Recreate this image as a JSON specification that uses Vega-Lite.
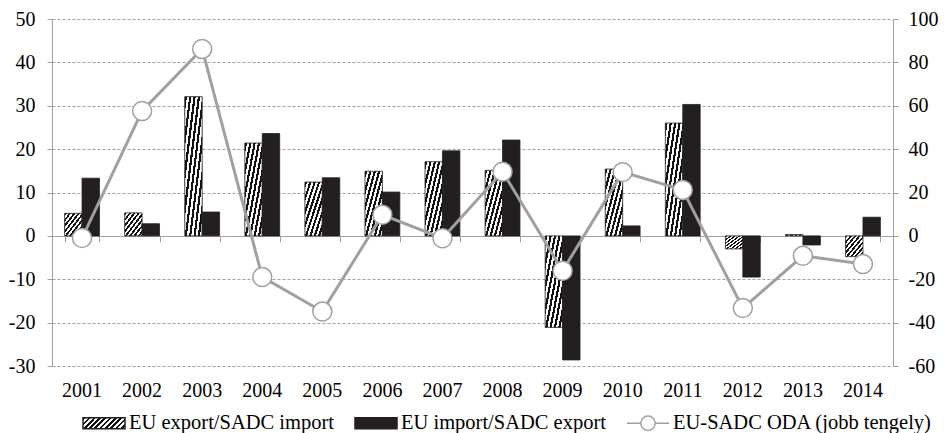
{
  "$schema": "https://vega.github.io/schema/vega-lite/v6.json",
  "width": 841,
  "height": 347,
  "autosize": "none",
  "padding": {"left": 52, "top": 19, "right": 51, "bottom": 67},
  "config": {
    "font": "Liberation Serif",
    "view": {"stroke": null},
    "axis": {
      "labelFont": "Liberation Serif",
      "labelFontSize": 20,
      "labelColor": "#000000",
      "domainColor": "#a0a0a0",
      "tickColor": "#a0a0a0",
      "gridColor": "#a0a0a0",
      "title": null
    },
    "legend": {
      "labelFont": "Liberation Serif",
      "labelFontSize": 20.5,
      "labelColor": "#000000",
      "labelLimit": 500
    }
  },
  "datasets": {
    "bars": [
      {"year": "2001", "series": "EU export/SADC import", "value": 5.2},
      {"year": "2001", "series": "EU import/SADC export", "value": 13.3},
      {"year": "2002", "series": "EU export/SADC import", "value": 5.3},
      {"year": "2002", "series": "EU import/SADC export", "value": 2.8},
      {"year": "2003", "series": "EU export/SADC import", "value": 32.1},
      {"year": "2003", "series": "EU import/SADC export", "value": 5.5},
      {"year": "2004", "series": "EU export/SADC import", "value": 21.4},
      {"year": "2004", "series": "EU import/SADC export", "value": 23.6},
      {"year": "2005", "series": "EU export/SADC import", "value": 12.4},
      {"year": "2005", "series": "EU import/SADC export", "value": 13.4},
      {"year": "2006", "series": "EU export/SADC import", "value": 14.9},
      {"year": "2006", "series": "EU import/SADC export", "value": 10.1},
      {"year": "2007", "series": "EU export/SADC import", "value": 17.1},
      {"year": "2007", "series": "EU import/SADC export", "value": 19.6},
      {"year": "2008", "series": "EU export/SADC import", "value": 15.1},
      {"year": "2008", "series": "EU import/SADC export", "value": 22.1},
      {"year": "2009", "series": "EU export/SADC import", "value": -21.1},
      {"year": "2009", "series": "EU import/SADC export", "value": -28.6},
      {"year": "2010", "series": "EU export/SADC import", "value": 15.4},
      {"year": "2010", "series": "EU import/SADC export", "value": 2.3},
      {"year": "2011", "series": "EU export/SADC import", "value": 26.0},
      {"year": "2011", "series": "EU import/SADC export", "value": 30.3},
      {"year": "2012", "series": "EU export/SADC import", "value": -3.0},
      {"year": "2012", "series": "EU import/SADC export", "value": -9.5},
      {"year": "2013", "series": "EU export/SADC import", "value": 0.3},
      {"year": "2013", "series": "EU import/SADC export", "value": -2.1},
      {"year": "2014", "series": "EU export/SADC import", "value": -4.8},
      {"year": "2014", "series": "EU import/SADC export", "value": 4.3}
    ],
    "oda": [
      {"year": "2001", "oda": -1.0},
      {"year": "2002", "oda": 57.6},
      {"year": "2003", "oda": 86.2},
      {"year": "2004", "oda": -19.0},
      {"year": "2005", "oda": -34.9},
      {"year": "2006", "oda": 9.7},
      {"year": "2007", "oda": -1.1},
      {"year": "2008", "oda": 29.6},
      {"year": "2009", "oda": -16.1},
      {"year": "2010", "oda": 29.4},
      {"year": "2011", "oda": 21.2},
      {"year": "2012", "oda": -33.3},
      {"year": "2013", "oda": -9.2},
      {"year": "2014", "oda": -13.0}
    ]
  },
  "layer": [
    {
      "data": {"name": "bars"},
      "mark": {"type": "bar", "stroke": "#231f20", "strokeWidth": 0.8},
      "encoding": {
        "x": {
          "field": "year", "type": "ordinal",
          "scale": {"paddingInner": 0.42, "paddingOuter": 0.21},
          "axis": {"orient": "bottom", "domain": false, "ticks": false, "labelPadding": 14, "labelAngle": 0, "grid": false}
        },
        "xOffset": {
          "field": "series", "type": "nominal",
          "sort": ["EU export/SADC import", "EU import/SADC export"],
          "scale": {"paddingInner": 0, "paddingOuter": 0}
        },
        "y": {
          "field": "value", "type": "quantitative",
          "scale": {"domain": [-30, 50], "nice": false, "zero": false},
          "axis": {
            "orient": "left", "values": [-30, -20, -10, 0, 10, 20, 30, 40, 50],
            "labelExpr": "replace(datum.label, '\u2212', '-')",
            "grid": true, "gridDash": [3, 2], "gridWidth": 1,
            "domain": true, "ticks": true, "tickSize": 5, "labelPadding": 12
          }
        },
        "fill": {
          "condition": {
            "test": "datum.series === 'EU export/SADC import'",
            "value": {"gradient": "linear", "x1": 0, "y1": 0, "x2": 1, "y2": 1, "stops": [
                {"offset": 0, "color": "#111111"}, {"offset": 0.0625, "color": "#111111"},
                {"offset": 0.0625, "color": "#ffffff"}, {"offset": 0.125, "color": "#ffffff"},
                {"offset": 0.125, "color": "#111111"}, {"offset": 0.1875, "color": "#111111"},
                {"offset": 0.1875, "color": "#ffffff"}, {"offset": 0.25, "color": "#ffffff"},
                {"offset": 0.25, "color": "#111111"}, {"offset": 0.3125, "color": "#111111"},
                {"offset": 0.3125, "color": "#ffffff"}, {"offset": 0.375, "color": "#ffffff"},
                {"offset": 0.375, "color": "#111111"}, {"offset": 0.4375, "color": "#111111"},
                {"offset": 0.4375, "color": "#ffffff"}, {"offset": 0.5, "color": "#ffffff"},
                {"offset": 0.5, "color": "#111111"}, {"offset": 0.5625, "color": "#111111"},
                {"offset": 0.5625, "color": "#ffffff"}, {"offset": 0.625, "color": "#ffffff"},
                {"offset": 0.625, "color": "#111111"}, {"offset": 0.6875, "color": "#111111"},
                {"offset": 0.6875, "color": "#ffffff"}, {"offset": 0.75, "color": "#ffffff"},
                {"offset": 0.75, "color": "#111111"}, {"offset": 0.8125, "color": "#111111"},
                {"offset": 0.8125, "color": "#ffffff"}, {"offset": 0.875, "color": "#ffffff"},
                {"offset": 0.875, "color": "#111111"}, {"offset": 0.9375, "color": "#111111"},
                {"offset": 0.9375, "color": "#ffffff"}, {"offset": 1, "color": "#ffffff"}
            ]}
          },
          "value": "#231f20"
        },
        "opacity": {
          "field": "series", "type": "ordinal",
          "scale": {
            "domain": ["EU export/SADC import", "EU import/SADC export", "EU-SADC ODA (jobb tengely)"],
            "range": [1, 1, 1]
          },
          "legend": {
            "orient": "none",
            "legendX": 30,
            "legendY": 382,
            "direction": "horizontal",
            "title": null,
            "symbolSize": 1764,
            "symbolStrokeWidth": 1.5,
            "labelOffset": 3,
            "columnPadding": 18,
            "labelLimit": 500,
            "labelFontSize": 20.5,
            "labelColor": "#000000",
            "encoding": {
              "symbols": {
                "shape": {"value": {"expr": "datum.value === 'EU-SADC ODA (jobb tengely)' ? 'M-1,0H-0.34M0.34,0H1M-0.34,0A0.34,0.34,0,1,1,0.34,0A0.34,0.34,0,1,1,-0.34,0' : 'M-1,-0.262H1V0.262H-1Z'"}},
                "fill": {"value": {"expr": "datum.value === 'EU export/SADC import' ? {gradient: 'linear', x1: 0, y1: 0, x2: 1.181, y2: 0.309, stops: [{offset: 0, color: '#111111'}, {offset: 0.05, color: '#111111'}, {offset: 0.05, color: '#ffffff'}, {offset: 0.1, color: '#ffffff'}, {offset: 0.1, color: '#111111'}, {offset: 0.15, color: '#111111'}, {offset: 0.15, color: '#ffffff'}, {offset: 0.2, color: '#ffffff'}, {offset: 0.2, color: '#111111'}, {offset: 0.25, color: '#111111'}, {offset: 0.25, color: '#ffffff'}, {offset: 0.3, color: '#ffffff'}, {offset: 0.3, color: '#111111'}, {offset: 0.35, color: '#111111'}, {offset: 0.35, color: '#ffffff'}, {offset: 0.4, color: '#ffffff'}, {offset: 0.4, color: '#111111'}, {offset: 0.45, color: '#111111'}, {offset: 0.45, color: '#ffffff'}, {offset: 0.5, color: '#ffffff'}, {offset: 0.5, color: '#111111'}, {offset: 0.55, color: '#111111'}, {offset: 0.55, color: '#ffffff'}, {offset: 0.6, color: '#ffffff'}, {offset: 0.6, color: '#111111'}, {offset: 0.65, color: '#111111'}, {offset: 0.65, color: '#ffffff'}, {offset: 0.7, color: '#ffffff'}, {offset: 0.7, color: '#111111'}, {offset: 0.75, color: '#111111'}, {offset: 0.75, color: '#ffffff'}, {offset: 0.8, color: '#ffffff'}, {offset: 0.8, color: '#111111'}, {offset: 0.85, color: '#111111'}, {offset: 0.85, color: '#ffffff'}, {offset: 0.9, color: '#ffffff'}, {offset: 0.9, color: '#111111'}, {offset: 0.95, color: '#111111'}, {offset: 0.95, color: '#ffffff'}, {offset: 1, color: '#ffffff'}]} : (datum.value === 'EU import/SADC export' ? '#231f20' : '#ffffff')"}},
                "stroke": {"value": {"expr": "datum.value === 'EU-SADC ODA (jobb tengely)' ? '#a0a0a0' : '#231f20'"}},
                "opacity": {"value": 1}
              }
            }
          }
        }
      }
    },
    {
      "data": {"name": "oda"},
      "encoding": {
        "x": {
          "field": "year", "type": "ordinal",
          "axis": {"orient": "bottom", "offset": -130, "labels": false, "ticks": true, "tickSize": 6, "tickBand": "extent", "domain": true, "grid": false}
        },
        "y": {
          "field": "oda", "type": "quantitative",
          "scale": {"domain": [-60, 100], "nice": false, "zero": false},
          "axis": {
            "orient": "right", "values": [-60, -40, -20, 0, 20, 40, 60, 80, 100],
            "labelExpr": "replace(datum.label, '\u2212', '-')",
            "grid": false, "domain": true, "ticks": true, "tickSize": 5, "labelPadding": 10
          }
        }
      },
      "layer": [
        {
          "mark": {"type": "line", "strokeWidth": 3, "stroke": "#a0a0a0"}
        },
        {
          "mark": {"type": "point", "shape": "circle", "size": 360, "filled": true, "fill": "#ffffff", "stroke": "#a0a0a0", "strokeWidth": 1.5, "opacity": 1}
        }
      ]
    }
  ],
  "resolve": {"scale": {"y": "independent"}, "axis": {"x": "independent"}}
}
